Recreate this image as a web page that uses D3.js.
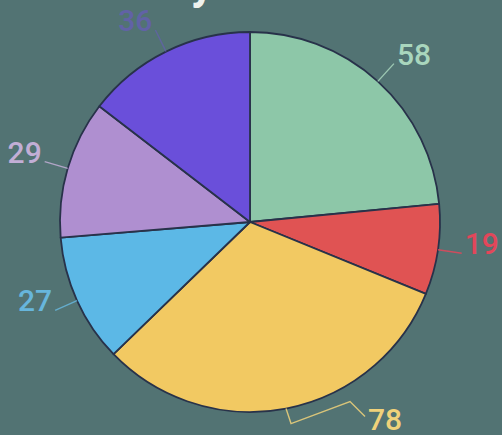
<!DOCTYPE html>
<html>
<head>
<meta charset="utf-8">
<script src="https://cdn.jsdelivr.net/npm/d3@7"></script>
<style>
  html, body { margin: 0; padding: 0; background: #527373; overflow: hidden; }
  svg { display: block; font-family: Roboto, "Noto Sans", sans-serif; }
</style>
</head>
<body>
<svg width="502" height="435"></svg>
<script>
var categories = ["A", "B", "C", "D", "E", "F"];
var values = [58, 19, 78, 27, 29, 36];
var sliceColors = ["#8dc7a8", "#e05353", "#f2c962", "#5cb8e6", "#af8fd0", "#6a4fda"];
var labelColors = ["#a9d6bd", "#e2475a", "#f0d27a", "#67b6dc", "#c2aed6", "#6c58c9"];
var title = "y";

var svg = d3.select("svg"),
    width = +svg.attr("width"),
    height = +svg.attr("height"),
    radius = 190,
    g = svg.append("g").attr("transform", "translate(250,222)");

// title is cropped off the top, only the descender of its last letter shows
svg.append("text")
    .attr("x", 214)
    .attr("y", -1)
    .attr("text-anchor", "end")
    .attr("fill", "#eef2ee")
    .attr("font-size", 46)
    .attr("font-weight", "bold")
    .text(title);

var data = categories.map(function(c, i) { return { name: c, value: values[i], i: i }; });

var pie = d3.pie()
    .sort(null)
    .value(function(d) { return d.value; });

var path = d3.arc()
    .outerRadius(radius)
    .innerRadius(0);

var edge = d3.arc().outerRadius(radius).innerRadius(radius);
var lineEnd = d3.arc().outerRadius(214).innerRadius(214);

var arcs = pie(data);

g.selectAll(".slice")
  .data(arcs)
  .enter().append("path")
    .attr("class", "slice")
    .attr("d", path)
    .attr("fill", function(d) { return sliceColors[d.data.i]; })
    .attr("stroke", "#28324a")
    .attr("stroke-width", 1.8)
    .attr("stroke-linejoin", "round");

var lab = g.selectAll(".lab")
  .data(arcs)
  .enter().append("g")
    .attr("class", "lab")
    .attr("opacity", function(d) { return d.data.i === 5 ? 0.6 : 1; });

function mid(d) { return (d.startAngle + d.endAngle) / 2; }

function linePoints(d) {
  var a = edge.centroid(d), b = lineEnd.centroid(d);
  if (d.data.i === 2) {
    // zig-zag leader of the big bottom slice
    return [a, [a[0] + 5, a[1] + 15], [a[0] + 64, a[1] - 7], [a[0] + 79, a[1] + 8]];
  }
  return [a, b];
}

lab.append("polyline")
    .attr("points", function(d) { return linePoints(d).join(" "); })
    .attr("fill", "none")
    .attr("stroke", function(d) { return labelColors[d.data.i]; })
    .attr("stroke-width", 1.4)
    .attr("opacity", 0.85);

lab.append("text")
    .attr("x", function(d) {
      var p = linePoints(d), e = p[p.length - 1];
      return Math.sin(mid(d)) >= 0 ? e[0] + 3 : e[0] - 3;
    })
    .attr("y", function(d) {
      var p = linePoints(d), e = p[p.length - 1];
      return e[1] + 1 + (d.data.i === 2 ? 12 : 0);
    })
    .attr("text-anchor", function(d) { return Math.sin(mid(d)) >= 0 ? "start" : "end"; })
    .attr("fill", function(d) { return labelColors[d.data.i]; })
    .attr("font-size", 30)
    .attr("font-weight", 500)
    .text(function(d) { return d.data.value; });
</script>
</body>
</html>
